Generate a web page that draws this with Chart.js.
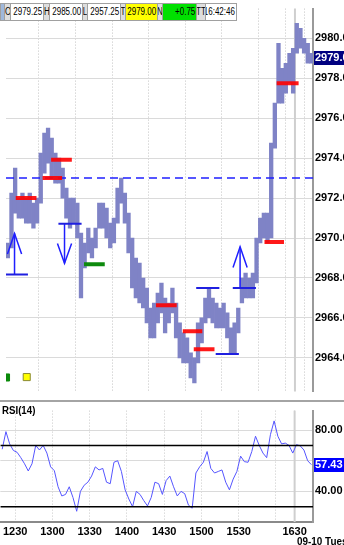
<!DOCTYPE html>
<html><head><meta charset="utf-8">
<script src="https://cdn.jsdelivr.net/npm/chart.js@4"></script>
<style>
html,body{margin:0;padding:0;background:#fff;width:344px;height:545px;overflow:hidden;}
body{position:relative;font-family:"Liberation Sans Narrow","Liberation Sans",Arial,sans-serif;}
#main{position:absolute;left:0;top:0;}
#rsi{position:absolute;left:0;top:402px;}
.sep{position:absolute;left:0;top:400px;width:344px;height:2px;background:#a4a4a4;}
#hdr{position:absolute;left:0;top:3px;height:18px;width:237px;}
#hdr .c{position:absolute;top:0;height:18px;box-sizing:border-box;font-size:10px;line-height:16px;color:#000;white-space:nowrap;overflow:hidden;}
#hdr .lbl{background:#dedede;border:1px solid #a0a0a0;}
#hdr .val{background:#fff;border:1px solid #a0a0a0;}
#hdr .val i{font-style:normal;position:absolute;right:1px;top:0;transform:scaleX(0.8);transform-origin:right center;}
#hdr .lbl i{font-style:normal;position:absolute;left:50%;top:0;transform:translateX(-50%) scaleX(0.8);transform-origin:center center;}
#rsiTitle{position:absolute;left:2px;top:404px;font-weight:bold;font-size:11px;color:#000;display:inline-block;transform:scaleX(0.88);transform-origin:left center;}
#dateLbl{position:absolute;left:297px;top:535px;font-weight:bold;font-size:11px;color:#000;white-space:nowrap;transform:scaleX(0.9);transform-origin:left center;}
</style>
</head><body>
<canvas id="main" width="344" height="400"></canvas>
<div class="sep"></div>
<canvas id="rsi" width="344" height="143"></canvas>
<div id="hdr">
<span class="c" style="left:0;width:5px;background:#9fb8dc;border:1px solid #a0a0a0"></span>
<span class="c lbl" style="left:4px;width:7px"><i>O</i></span>
<span class="c val" style="left:10px;width:34px"><i>2979.25</i></span>
<span class="c lbl" style="left:43px;width:7px"><i>H</i></span>
<span class="c val" style="left:49px;width:34px"><i>2985.00</i></span>
<span class="c lbl" style="left:82px;width:6px"><i>L</i></span>
<span class="c val" style="left:87px;width:34px"><i>2957.25</i></span>
<span class="c lbl" style="left:120px;width:6px"><i>T</i></span>
<span class="c val" style="left:125px;width:33px;background:#ffff00"><i>2979.00</i></span>
<span class="c lbl" style="left:157px;width:6px"><i>N</i></span>
<span class="c val" style="left:162px;width:35px;background:#00e000"><i>+0.75</i></span>
<span class="c lbl" style="left:196px;width:10px"><i>TT</i></span>
<span class="c val" style="left:205px;width:32px"><i>16:42:46</i></span>
</div>
<div id="rsiTitle">RSI(14)</div>
<div id="dateLbl">09-10 Tues</div>
<script>
// ---------- DATA ----------
const times = [
'12:18','12:21','12:24','12:27','12:30','12:33','12:36','12:39','12:42','12:45',
'12:48','12:51','12:54','12:57','13:00','13:03','13:06','13:09','13:12','13:15',
'13:18','13:21','13:24','13:27','13:30','13:33','13:36','13:39','13:42','13:45',
'13:48','13:51','13:54','13:57','14:00','14:03','14:06','14:09','14:12','14:15',
'14:18','14:21','14:24','14:27','14:30','14:33','14:36','14:39','14:42','14:45',
'14:48','14:51','14:54','14:57','15:00','15:03','15:06','15:09','15:12','15:15',
'15:18','15:21','15:24','15:27','15:30','15:33','15:36','15:39','15:42','15:45',
'15:48','15:51','15:54','15:57','16:00','16:03','16:06','16:09','16:12',
'16:30','16:33','16:36','16:39','16:42'];
const lows = [
2969.0,2969.5,2971.25,2971.0,2971.0,2970.75,2970.75,2970.5,2970.75,2971.75,
2973.25,2973.75,2973.0,2972.75,2972.75,2972.0,2971.0,2970.5,2970.75,2970.0,
2967.0,2968.5,2969.25,2969.0,2969.5,2970.5,2970.5,2970.0,2969.5,2969.75,
2970.75,2971.75,2970.75,2969.25,2967.5,2967.0,2966.75,2966.5,2965.75,2965.0,
2965.0,2965.75,2966.25,2965.25,2965.75,2966.25,2965.0,2964.0,2963.75,2963.75,
2963.0,2962.75,2963.75,2964.75,2965.75,2966.0,2965.75,2965.5,2965.5,2965.5,
2965.0,2964.25,2964.25,2965.25,2966.75,2967.0,2967.0,2967.0,2967.75,2969.75,
2970.0,2969.75,2970.0,2974.5,2976.75,2976.75,2977.25,2977.75,2977.25,
2979.25,2979.5,2979.25,2978.75,2978.75];
const highs = [
2969.75,2972.25,2973.5,2972.0,2972.25,2972.0,2972.25,2971.75,2972.0,2974.25,
2975.25,2975.5,2975.0,2974.25,2974.0,2973.5,2972.5,2972.0,2972.0,2971.75,
2970.25,2969.75,2970.5,2970.0,2970.5,2971.75,2971.75,2971.5,2970.75,2971.0,
2972.5,2973.0,2972.25,2971.25,2970.0,2969.0,2968.75,2968.0,2967.5,2966.5,
2966.75,2967.25,2967.75,2967.0,2966.75,2967.5,2966.75,2965.75,2965.25,2965.0,
2964.25,2964.0,2965.75,2966.0,2967.0,2967.5,2967.0,2966.75,2966.5,2966.75,
2966.25,2965.5,2965.75,2966.5,2968.0,2968.25,2968.0,2968.25,2970.0,2971.0,
2971.25,2971.25,2974.75,2976.75,2979.75,2978.5,2978.75,2979.25,2979.5,
2980.75,2980.5,2980.0,2979.75,2979.25];
const rsi = [
67.5,79,71,66.7,65.5,62,58,53.3,58,70,
67,70,65,56,53.5,43,37,38,43,36,
27,40,44,46,50,56,54,55,46,45,
59,60,53,41,35,30,40,38,34,30.5,
36,46,45,38,47,50,43,37,40,38.5,
31,29,52,56,59,66,55,52,53,54,
46,41,48,53,63,59.4,59,66,76,70,
65,62,77,86,76,71,71.5,70,65,
70.5,69.7,67,60,57.43];
const tickTimes  = ['12:30','13:00','13:30','14:00','14:30','15:00','15:30','16:00','16:30'];
const tickLabels = ['1230','1300','1330','1400','1430','1500','1530','','1630'];
const priceTicks = [2964,2966,2968,2970,2972,2974,2976,2978,2980];
const rsiTicks = [40,60,80];
const rsiTickLabels = ['40.00','','80.00'];
const rsiLevels = [30,70];
const lastPrice = 2979.00;
const lastRsi = 57.43;
const pivotLevel = 2973.0;
// [from, to, price]
const redMarks = [['12:26','12:43',2972.0],['12:48','13:04',2973.0],['12:55','13:12',2973.92],
  ['14:21','14:38',2966.63],['14:43','14:59',2965.34],['14:52','15:09',2964.43],
  ['15:50','16:06',2969.8],['16:00','16:33',2977.75]];
const greenMarks = [['13:22','13:39',2968.69]];
const blueMarks = [['12:18','12:36',2968.17],['13:01','13:20',2970.71],['14:54','15:13',2967.5],
  ['15:10','15:29',2964.19],['15:24','15:43',2967.5]];
// [time, base price, tip price]
const arrows = [['12:25',2968.17,2970.23],['13:06',2970.71,2968.74],['15:30',2967.5,2969.56]];
// session markers [time, price, colour]
const markers = [['12:18',2963.02,'#0a8a0a'],['12:35',2963.04,'#ffff00']];

// ---------- HELPERS ----------
const FONT = '"Liberation Sans Narrow","Liberation Sans",Arial,sans-serif';
function sess(t){ // session minutes since 12:18, halt 16:15-16:30 removed
  const [h,m] = t.split(':').map(Number);
  let v = h*60+m - (12*60+18);
  if (h*60+m >= 16*60+30) v -= 15;
  return v;
}
const X_MAX = 251.8;
const barX = times.map(t => sess(t) + 1.5);
const tickS = tickTimes.map(sess);

const xTicksBuild = s => { s.ticks = tickS.map(v => ({value:v})); };

const lastBox = {
  id:'lastBox',
  afterDraw(chart, args, opts){
    const {ctx, chartArea} = chart;
    const y = chart.scales.y.getPixelForValue(opts.value);
    ctx.save();
    ctx.fillStyle = opts.bg;
    ctx.fillRect(chartArea.right + 1, Math.round(y) - 7, 40, 14);
    ctx.fillStyle = '#fff';
    ctx.font = 'bold 11px ' + FONT;
    ctx.textBaseline = 'middle';
    ctx.fillText(opts.text, chartArea.right + 2, Math.round(y));
    ctx.restore();
  }
};
const sessionBreak = {
  id:'sessionBreak',
  beforeDatasetsDraw(chart){
    const {ctx, chartArea} = chart;
    const x = chart.scales.x.getPixelForValue(sess('16:30'));
    ctx.save();
    ctx.strokeStyle = '#cfcfcf';
    ctx.lineWidth = 2;
    ctx.beginPath(); ctx.moveTo(x, chartArea.top); ctx.lineTo(x, chartArea.bottom); ctx.stroke();
    ctx.restore();
  }
};

function seg(a, b, p, color, w, extra){
  return Object.assign({type:'line', data:[{x:sess(a),y:p},{x:sess(b),y:p}], borderColor:color,
    borderWidth:w, pointRadius:0, borderCapStyle:'butt', order:1}, extra||{});
}
const overlay = [];
overlay.push(seg('12:18','16:42',pivotLevel,'#1f1fff',1.5,{data:[{x:0,y:pivotLevel},{x:X_MAX,y:pivotLevel}],borderDash:[8,5],order:3}));
redMarks.forEach(r => overlay.push(seg(r[0],r[1],r[2],'rgba(255,0,0,0.9)',4)));
greenMarks.forEach(r => overlay.push(seg(r[0],r[1],r[2],'#0d8a0d',4)));
blueMarks.forEach(r => overlay.push(seg(r[0],r[1],r[2],'#1f1fe0',2)));
arrows.forEach(a => {
  const x = sess(a[0]), base = a[1], tip = a[2];
  const arm = tip + (base - tip) * 0.5, hw = 5.8;
  overlay.push({type:'line', data:[{x:x,y:base},{x:x,y:tip}], borderColor:'#1f1fff', borderWidth:1.5, pointRadius:0, order:1});
  overlay.push({type:'line', data:[{x:x-hw,y:arm},{x:x,y:tip},{x:x+hw,y:arm}], borderColor:'#1f1fff', borderWidth:1.5, pointRadius:0, order:1});
});
overlay.push({type:'scatter', data:markers.map(m=>({x:sess(m[0]),y:m[1]})), pointStyle:'rect', pointRadius:5,
  backgroundColor:markers.map(m=>m[2]), borderColor:['#0a8a0a','#8a8a30'], borderWidth:1, order:0});

// ---------- MAIN PRICE CHART ----------
new Chart(document.getElementById('main'), {
  type:'bar',
  data:{ datasets:[
    ...overlay,
    {type:'bar', data:times.map((t,i)=>({x:barX[i], y:[lows[i], highs[i]]})),
     backgroundColor:'#7f83c6', borderColor:'#7276bd', borderWidth:0, barPercentage:1, categoryPercentage:1, order:5}
  ]},
  options:{
    responsive:false, animation:false, events:[],
    layout:{padding:0},
    plugins:{legend:{display:false}, tooltip:{enabled:false}, lastBox:{value:lastPrice, bg:'#000080', text:lastPrice.toFixed(2)}},
    scales:{
      x:{type:'linear', min:0, max:X_MAX, offset:false, afterBuildTicks:xTicksBuild,
         ticks:{display:false}, grid:{color:'#c2c2c2', drawTicks:false}, border:{display:false, dash:[1,2]},
         afterFit:s=>{s.height=0;}},
      y:{position:'right', min:2962.323, max:2981.485, afterBuildTicks:s=>{s.ticks=priceTicks.map(v=>({value:v}));},
         ticks:{font:{family:FONT,size:11,weight:'bold'}, color:'#000', padding:2, callback:v=>Number(v).toFixed(2)},
         grid:{color:'#dadada', drawTicks:false}, border:{color:'#9a9a9a', width:2},
         afterFit:s=>{s.width=31;}}
    }
  },
  plugins:[sessionBreak, lastBox]
});

// ---------- RSI CHART ----------
new Chart(document.getElementById('rsi'), {
  type:'line',
  data:{ datasets:[
    ...rsiLevels.map(l=>({data:[{x:0,y:l},{x:X_MAX,y:l}], borderColor:'#000', borderWidth:1.5, pointRadius:0})),
    {data:times.map((t,i)=>({x:barX[i], y:rsi[i]})), borderColor:'#5555ff', borderWidth:1, pointRadius:0, tension:0}
  ]},
  options:{
    responsive:false, animation:false, events:[],
    layout:{padding:0},
    plugins:{legend:{display:false}, tooltip:{enabled:false}, lastBox:{value:lastRsi, bg:'#0000ff', text:lastRsi.toFixed(2)}},
    scales:{
      x:{type:'linear', min:0, max:X_MAX, offset:false, afterBuildTicks:xTicksBuild,
         ticks:{font:{family:FONT,size:11,weight:'bold'}, color:'#000', padding:3, maxRotation:0, autoSkip:false,
           callback:(v)=>{const k=tickS.indexOf(v); return k<0?'':tickLabels[k];}},
         grid:{color:'#c8c8c8', drawTicks:false}, border:{display:true, color:'#8a8a8a', width:2, dash:[1,2]},
         afterFit:s=>{s.height=23;}},
      y:{position:'right', min:20, max:92.73, afterBuildTicks:s=>{s.ticks=rsiTicks.map(v=>({value:v}));},
         ticks:{font:{family:FONT,size:11,weight:'bold'}, color:'#000', padding:2,
           callback:(v)=>{const k=rsiTicks.indexOf(v); return k<0?'':rsiTickLabels[k];}},
         grid:{color:'#dadada', drawTicks:false}, border:{color:'#9a9a9a', width:2},
         afterFit:s=>{s.width=31;}}
    }
  },
  plugins:[sessionBreak, lastBox]
});
</script>
</body></html>
